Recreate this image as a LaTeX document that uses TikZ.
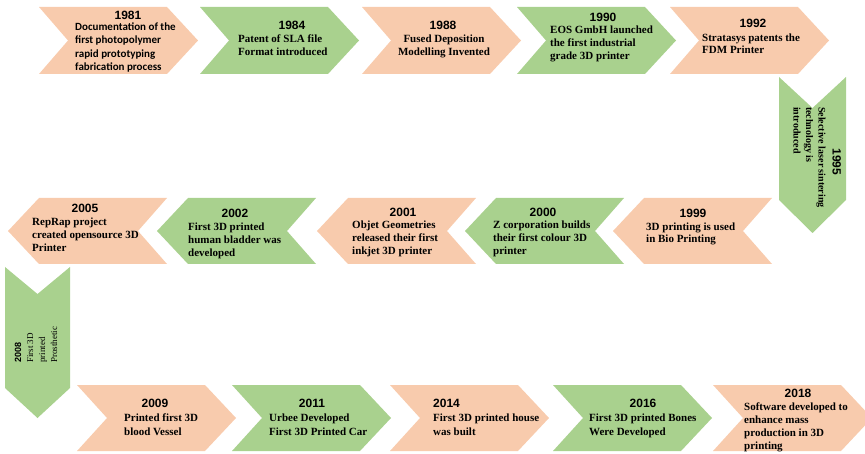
\documentclass[tikz,border=0pt]{standalone}
\usepackage{fontspec}
\setmainfont{Liberation Serif}
\newfontfamily\yearfam{Liberation Sans}
\newfontfamily\calfam{Carlito}
\definecolor{peach}{HTML}{F8CBAD}
\definecolor{leaf}{HTML}{A9D18E}
% multi-line nodes sit on the baseline of their last line
\tikzset{
  year/.style={font=\yearfam\bfseries\fontsize{12}{12}\selectfont, inner sep=0pt, anchor=base},
  event/.style={font=\bfseries\fontsize{11}{13}\selectfont, inner sep=0pt, align=left, anchor=base west},
}
\begin{document}
\begin{tikzpicture}[
        x=1pt,
        y=-1pt]
\useasboundingbox (0,0) rectangle (865,454);
\clip (0,0) rectangle (865,454);
% top row, pointing right
\foreach \x/\col in {39/peach, 200/leaf, 362/peach, 517/leaf, 670/peach}{
    \fill[\col] (\x,7) -- ++(128,0) -- ++(31,33.5) -- ++(-31,33.5) -- ++(-128,0) -- ++(29,-33.5) -- cycle;
}
% turn down on the right
\fill[leaf] (779,77) -- ++(33.5,31) -- ++(33.5,-31) -- ++(0,123) -- ++(-33.5,33) -- ++(-33.5,-33) -- cycle;
% middle row, pointing left
\foreach \x/\col in {8/peach, 157/leaf, 317/peach, 465/leaf, 613/peach}{
    \fill[\col] (\x,231) -- ++(31,-33) -- ++(128,0) -- ++(-29,33) -- ++(29,33) -- ++(-128,0) -- cycle;
}
% turn down on the left
\fill[leaf] (5,267) -- ++(32.5,27) -- ++(32.5,-27) -- ++(0,121) -- ++(-32.5,30) -- ++(-32.5,-30) -- cycle;
% bottom row, pointing right
\foreach \x/\col in {77/peach, 232/leaf, 390/peach, 553/leaf, 713/peach}{
    \fill[\col] (\x,385) -- ++(128,0) -- ++(31,33) -- ++(-31,33) -- ++(-128,0) -- ++(30,-33) -- cycle;
}

\node[year] (y1981) at (128,19.3) {1981};
\node[event, font=\calfam\bfseries\fontsize{11}{13.3}\selectfont] (e1981) at (75,70.4)
    {Documentation of the\\first photopolymer\\rapid prototyping\\fabrication process};
\node[year] (y1984) at (292,29.3) {1984};
\node[event] (e1984) at (238,55.5) {Patent of SLA file\\Format introduced};
\node[year] (y1988) at (443,29.3) {1988};
\node[event, align=center, anchor=base] (e1988) at (444,55.5) {Fused Deposition\\Modelling Invented};
\node[year] (y1990) at (603,21.3) {1990};
\node[event] (e1990) at (550,59.5) {EOS GmbH launched\\the first industrial\\grade 3D printer};
\node[year] (y1992) at (753,27.3) {1992};
\node[event, font=\bfseries\fontsize{11}{12.5}\selectfont] (e1992) at (702,54) {Stratasys patents the\\FDM Printer};

\node[year, rotate=-90] (y1995) at (832.7,162) {1995};
\node[event, rotate=-90, font=\bfseries\fontsize{10}{12.5}\selectfont] (e1995) at (793.5,107)
    {Selective laser sintering\\technology is\\introduced};

\node[year] (y2005) at (85,212.3) {2005};
\node[event] (e2005) at (32,251.5) {RepRap project\\created opensource 3D\\Printer};
\node[year] (y2002) at (235,217.3) {2002};
\node[event] (e2002) at (188,256.5) {First 3D printed\\human bladder was\\developed};
\node[year] (y2001) at (403,216.3) {2001};
\node[event] (e2001) at (352,254.5) {Objet Geometries\\released their first\\inkjet 3D printer};
\node[year] (y2000) at (543,216.3) {2000};
\node[event] (e2000) at (493,254.5) {Z corporation builds\\their first colour 3D\\printer};
\node[year] (y1999) at (693,217.3) {1999};
\node[event, font=\bfseries\fontsize{11}{12}\selectfont] (e1999) at (646,242.5) {3D printing is used\\in Bio Printing};

\node[year, rotate=90, anchor=base west, font=\yearfam\bfseries\fontsize{9}{9}\selectfont] (y2008) at (21,363) {2008};
\node[event, rotate=90, font=\fontsize{9}{12}\selectfont] (e2008) at (57,363) {First 3D\\printed\\Prosthetic};

\node[year] (y2009) at (155,407.3) {2009};
\node[event, font=\bfseries\fontsize{11}{13.5}\selectfont] (e2009) at (124,435) {Printed first 3D\\blood Vessel};
\node[year] (y2011) at (312,407.3) {2011};
\node[event, font=\bfseries\fontsize{11}{13.5}\selectfont] (e2011) at (269,435) {Urbee Developed\\First 3D Printed Car};
\node[year, anchor=base west] (y2014) at (433,407.3) {2014};
\node[event, font=\bfseries\fontsize{11}{13.5}\selectfont] (e2014) at (433,435) {First 3D printed house\\was built};
\node[year] (y2016) at (643,407.3) {2016};
\node[event, font=\bfseries\fontsize{11}{13.5}\selectfont] (e2016) at (589,435) {First 3D printed Bones\\Were Developed};
\node[year] (y2018) at (798,397.3) {2018};
\node[event] (e2018) at (744,449.5) {Software developed to\\enhance mass\\production in 3D\\printing};
\end{tikzpicture}
\end{document}
